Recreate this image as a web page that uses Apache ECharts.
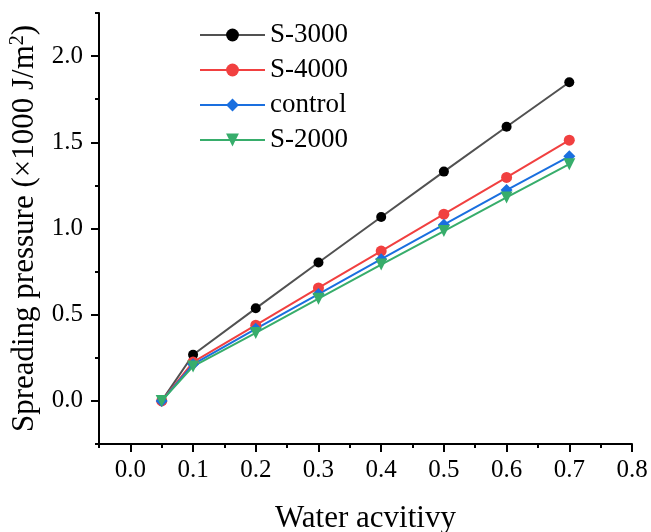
<!DOCTYPE html>
<html>
<head>
<meta charset="utf-8">
<script src="https://cdn.jsdelivr.net/npm/echarts@6/dist/echarts.min.js"></script>
<style>html,body{margin:0;padding:0;background:#fff}#c{width:651px;height:532px}</style>
</head>
<body>
<div id="c"></div>
<script>
var waterActivity = [0.05, 0.1, 0.2, 0.3, 0.4, 0.5, 0.6, 0.7];
var s3000 = [0, 0.268, 0.537, 0.803, 1.067, 1.330, 1.590, 1.848];
var s4000 = [0, 0.225, 0.439, 0.655, 0.869, 1.083, 1.296, 1.512];
var control = [0, 0.212, 0.418, 0.620, 0.822, 1.022, 1.223, 1.419];
var s2000 = [0, 0.200, 0.394, 0.593, 0.791, 0.985, 1.180, 1.373];
var xMajorTicks = [0, 0.1, 0.2, 0.3, 0.4, 0.5, 0.6, 0.7, 0.8];
var xMinorTicks = [-0.05, 0.05, 0.15, 0.25, 0.35, 0.45, 0.55, 0.65, 0.75];
var yMajorTicks = [0, 0.5, 1.0, 1.5, 2.0];
var yMinorTicks = [-0.25, 0.25, 0.75, 1.25, 1.75, 2.25];

function pairs(xs, ys) { return xs.map(function (x, i) { return [x, ys[i]]; }); }
var FONT = 'Liberation Serif';

var chart = echarts.init(document.getElementById('c'), null, {renderer: 'canvas'});
function mkSeries(name, ys, symbol, size, lineColor, markColor, rot) {
  return {
    name: name, type: 'line', xAxisIndex: 0, yAxisIndex: 0,
    data: pairs(waterActivity, ys),
    symbol: symbol, symbolSize: size, symbolRotate: rot || 0, showAllSymbol: true,
    lineStyle: {color: lineColor, width: 2},
    itemStyle: {color: markColor},
    emphasis: {disabled: true},
    animation: false
  };
}
var axisLineStyle = {show: true, onZero: false, lineStyle: {color: '#000', width: 2}};
chart.setOption({
  animation: false,
  backgroundColor: '#fff',
  textStyle: {fontFamily: FONT, color: '#000'},
  grid: {left: 99, right: 19, top: 13, bottom: 88, containLabel: false, outerBoundsMode: 'none'},
  legend: {
    orient: 'vertical', left: 199, top: 21, padding: 0,
    itemWidth: 65, itemHeight: 16, itemGap: 7,
    textStyle: {fontFamily: FONT, fontSize: 27, color: '#000', lineHeight: 28},
    data: ['S-3000', 'S-4000', 'control', 'S-2000']
  },
  xAxis: [{
    type: 'value', min: -0.05, max: 0.8, position: 'bottom',
    name: 'Water acvitivy', nameLocation: 'middle', nameGap: 59,
    nameTextStyle: {fontFamily: FONT, fontSize: 31, color: '#000'},
    axisLine: axisLineStyle,
    axisTick: {show: true, inside: false, length: 8, lineStyle: {color: '#000', width: 2}, customValues: xMajorTicks},
    axisLabel: {fontFamily: FONT, fontSize: 25, color: '#000', margin: 14, customValues: xMajorTicks,
      formatter: function (v) { return v.toFixed(1); }},
    splitLine: {show: false}
  }, {
    type: 'value', min: -0.05, max: 0.8, position: 'bottom',
    axisLine: {show: false, onZero: false},
    axisTick: {show: true, inside: false, length: 4, lineStyle: {color: '#000', width: 2}, customValues: xMinorTicks},
    axisLabel: {show: false},
    splitLine: {show: false}
  }],
  yAxis: [{
    type: 'value', min: -0.25, max: 2.25, position: 'left',
    name: 'Spreading pressure (×1000 J/m{sup|2})', nameLocation: 'middle', nameGap: 41,
    nameTextStyle: {fontFamily: FONT, fontSize: 31, color: '#000',
      rich: {sup: {fontFamily: FONT, fontSize: 20, color: '#000', padding: [0, 0, 16, 0]}}},
    axisLine: axisLineStyle,
    axisTick: {show: true, inside: false, length: 8, lineStyle: {color: '#000', width: 2}, customValues: yMajorTicks},
    axisLabel: {fontFamily: FONT, fontSize: 25, color: '#000', margin: 16, customValues: yMajorTicks,
      formatter: function (v) { return v.toFixed(1); }},
    splitLine: {show: false}
  }, {
    type: 'value', min: -0.25, max: 2.25, position: 'left',
    axisLine: {show: false, onZero: false},
    axisTick: {show: true, inside: false, length: 4, lineStyle: {color: '#000', width: 2}, customValues: yMinorTicks},
    axisLabel: {show: false},
    splitLine: {show: false}
  }],
  series: [
    mkSeries('S-3000', s3000, 'circle', 10, '#515151', '#000000'),
    mkSeries('S-4000', s4000, 'circle', 11, '#F14040', '#F14040'),
    mkSeries('control', control, 'diamond', 12, '#1A6FDF', '#1A6FDF'),
    mkSeries('S-2000', s2000, 'triangle', 12, '#37AD6B', '#37AD6B', 180)
  ]
});
</script>
</body>
</html>
